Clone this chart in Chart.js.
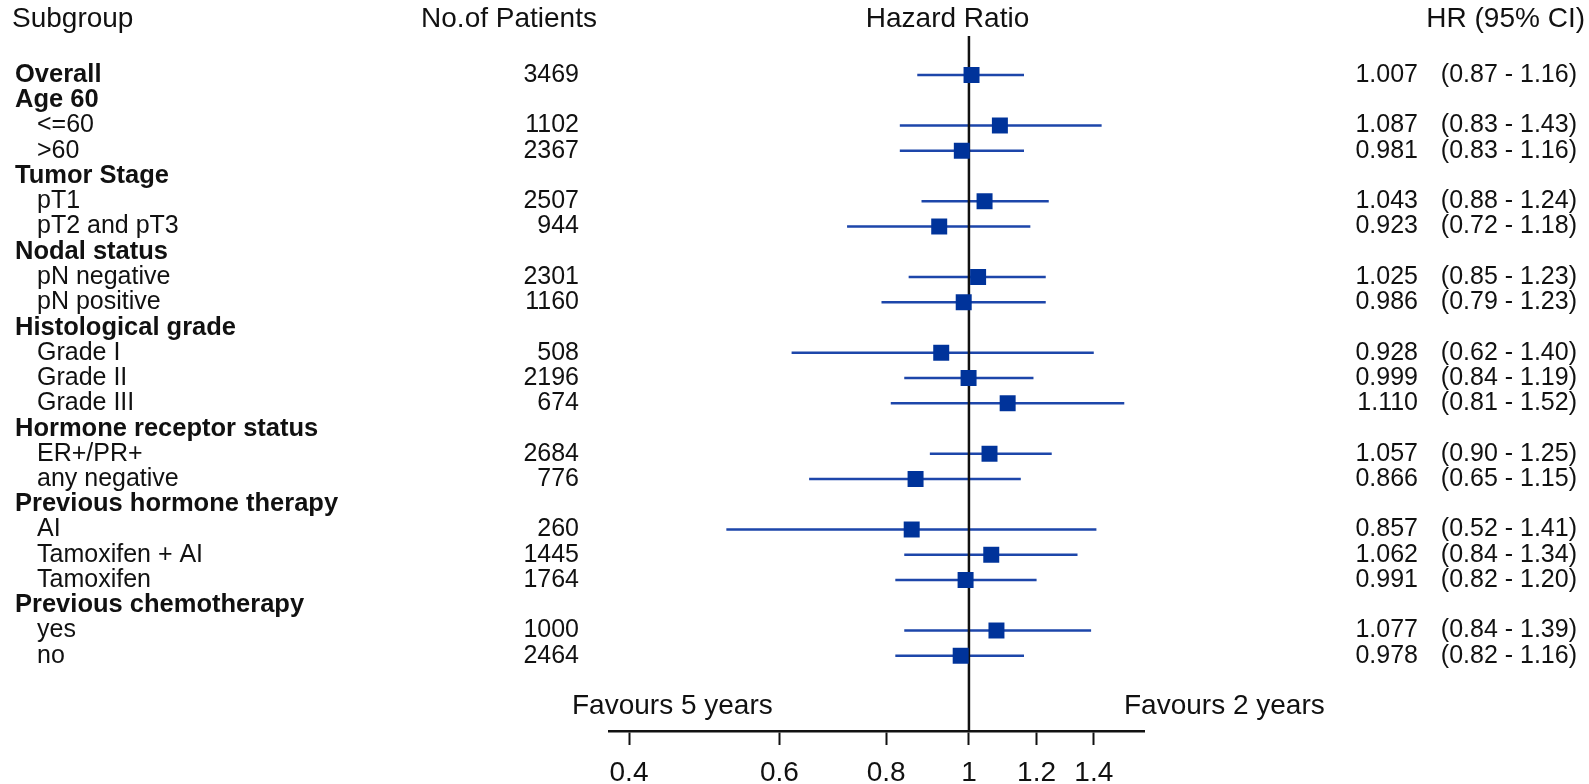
<!DOCTYPE html>
<html>
<head>
<meta charset="utf-8">
<script src="https://cdn.jsdelivr.net/npm/chart.js@4"></script>
<style>
  html, body { margin: 0; padding: 0; background: #fff; overflow: hidden; }
  #wrap { width: 1589px; height: 784px; position: relative; }
</style>
</head>
<body>
<div id="wrap"><canvas id="forest" width="1589" height="784"></canvas></div>
<script>
// Subgroup rows, top to bottom
const subgroups = [
  'Overall', 'Age 60', '<=60', '>60',
  'Tumor Stage', 'pT1', 'pT2 and pT3',
  'Nodal status', 'pN negative', 'pN positive',
  'Histological grade', 'Grade I', 'Grade II', 'Grade III',
  'Hormone receptor status', 'ER+/PR+', 'any negative',
  'Previous hormone therapy', 'AI', 'Tamoxifen + AI', 'Tamoxifen',
  'Previous chemotherapy', 'yes', 'no'
];
const headingRows = [
  true, true, false, false,
  true, false, false,
  true, false, false,
  true, false, false, false,
  true, false, false,
  true, false, false, false,
  true, false, false
];
const patients = [
  3469, null, 1102, 2367,
  null, 2507, 944,
  null, 2301, 1160,
  null, 508, 2196, 674,
  null, 2684, 776,
  null, 260, 1445, 1764,
  null, 1000, 2464
];
const hazardRatios = [
  1.007, null, 1.087, 0.981,
  null, 1.043, 0.923,
  null, 1.025, 0.986,
  null, 0.928, 0.999, 1.110,
  null, 1.057, 0.866,
  null, 0.857, 1.062, 0.991,
  null, 1.077, 0.978
];
const ciLower = [
  0.87, null, 0.83, 0.83,
  null, 0.88, 0.72,
  null, 0.85, 0.79,
  null, 0.62, 0.84, 0.81,
  null, 0.90, 0.65,
  null, 0.52, 0.84, 0.82,
  null, 0.84, 0.82
];
const ciUpper = [
  1.16, null, 1.43, 1.16,
  null, 1.24, 1.18,
  null, 1.23, 1.23,
  null, 1.40, 1.19, 1.52,
  null, 1.25, 1.15,
  null, 1.41, 1.34, 1.20,
  null, 1.39, 1.16
];
const xTickValues = [0.4, 0.6, 0.8, 1, 1.2, 1.4];
const columnHeaders = ['Subgroup', 'No.of Patients', 'Hazard Ratio', 'HR (95% CI)'];
const favourLabels = ['Favours 5 years', 'Favours 2 years'];

const FONT = '"Liberation Sans", Arial, Helvetica, sans-serif';
const INK = '#111111';
const ROW_TOP = -2.97;     // row value at top of plot area
const ROW_BOTTOM = 25.98;  // row value at the axis line
const HEADER_ROW = -2.22;
const REF_LINE_TOP = -1.545;
const FAVOUR_ROW = 25;

// Build chart datasets from the arrays above
const squarePoints = [];
const ciPoints = [];
hazardRatios.forEach((hr, i) => {
  if (hr === null) return;
  squarePoints.push({ x: hr, y: i });
  ciPoints.push({ x: ciLower[i], y: i });
  ciPoints.push({ x: ciUpper[i], y: i });
  ciPoints.push({ x: ciUpper[i], y: null }); // break between rows
});
const refLine = [{ x: 1, y: REF_LINE_TOP }, { x: 1, y: ROW_BOTTOM }];

const tablePlugin = {
  id: 'forestTable',
  afterDraw(chart) {
    const ctx = chart.ctx;
    const y = chart.scales.y;
    ctx.save();
    ctx.fillStyle = INK;
    ctx.textBaseline = 'middle';

    // column headers
    const hy = y.getPixelForValue(HEADER_ROW);
    ctx.font = '28px ' + FONT;
    ctx.textAlign = 'left';
    ctx.fillText(columnHeaders[0], 12, hy);
    ctx.textAlign = 'center';
    ctx.fillText(columnHeaders[1], 509, hy);
    ctx.fillText(columnHeaders[2], 947.5, hy);
    ctx.textAlign = 'right';
    ctx.fillText(columnHeaders[3], 1585, hy);

    // table rows
    subgroups.forEach((label, i) => {
      const ry = y.getPixelForValue(i);
      ctx.font = headingRows[i] ? 'bold 25.5px ' + FONT : '25px ' + FONT;
      ctx.textAlign = 'left';
      ctx.fillText(label, headingRows[i] ? 15 : 37, ry);
      ctx.font = '25px ' + FONT;
      if (patients[i] !== null) {
        ctx.textAlign = 'right';
        ctx.fillText(String(patients[i]), 579, ry);
      }
      if (hazardRatios[i] !== null) {
        ctx.textAlign = 'right';
        ctx.fillText(hazardRatios[i].toFixed(3), 1418, ry);
        ctx.fillText('(' + ciLower[i].toFixed(2) + ' - ' + ciUpper[i].toFixed(2) + ')', 1577, ry);
      }
    });

    // favour labels above the axis
    const fy = y.getPixelForValue(FAVOUR_ROW);
    ctx.font = '28px ' + FONT;
    ctx.textAlign = 'left';
    ctx.fillText(favourLabels[0], 572, fy);
    ctx.fillText(favourLabels[1], 1124, fy);
    ctx.restore();
  }
};

new Chart(document.getElementById('forest'), {
  type: 'scatter',
  data: {
    datasets: [
      {
        label: 'HR',
        data: squarePoints,
        pointStyle: 'rect',
        pointRadius: 11.3,
        pointHoverRadius: 11.3,
        pointBackgroundColor: '#00339a',
        pointBorderColor: '#00339a',
        pointBorderWidth: 0,
        showLine: false,
        order: 0
      },
      {
        label: 'ref',
        data: refLine,
        showLine: true,
        borderColor: INK,
        borderWidth: 2.5,
        pointRadius: 0,
        order: 1
      },
      {
        label: 'CI',
        data: ciPoints,
        showLine: true,
        spanGaps: false,
        borderColor: '#1d46aa',
        borderWidth: 2.6,
        pointRadius: 0,
        order: 2
      }
    ]
  },
  options: {
    responsive: false,
    devicePixelRatio: 1,
    animation: false,
    events: [],
    layout: { autoPadding: false, padding: { left: 609, right: 445, top: 0, bottom: 0 } },
    plugins: { legend: { display: false }, tooltip: { enabled: false } },
    scales: {
      x: {
        type: 'logarithmic',
        position: 'bottom',
        min: 0.379,
        max: 1.603,
        border: { display: true, color: INK, width: 2.5 },
        grid: {
          display: true,
          drawOnChartArea: false,
          drawTicks: true,
          tickLength: 14,
          tickColor: INK,
          tickWidth: 2
        },
        ticks: {
          autoSkip: false,
          maxRotation: 0,
          minRotation: 0,
          padding: 11,
          color: INK,
          font: { family: FONT, size: 28, lineHeight: 1.2 },
          callback: (v) => String(v)
        },
        afterBuildTicks: (axis) => {
          axis.ticks = xTickValues.map(v => ({ value: v }));
        },
        afterFit: (axis) => {
          axis.height = 53;
        }
      },
      y: {
        type: 'linear',
        reverse: true,
        min: ROW_TOP,
        max: ROW_BOTTOM,
        display: false
      }
    }
  },
  plugins: [tablePlugin]
});
</script>
</body>
</html>
